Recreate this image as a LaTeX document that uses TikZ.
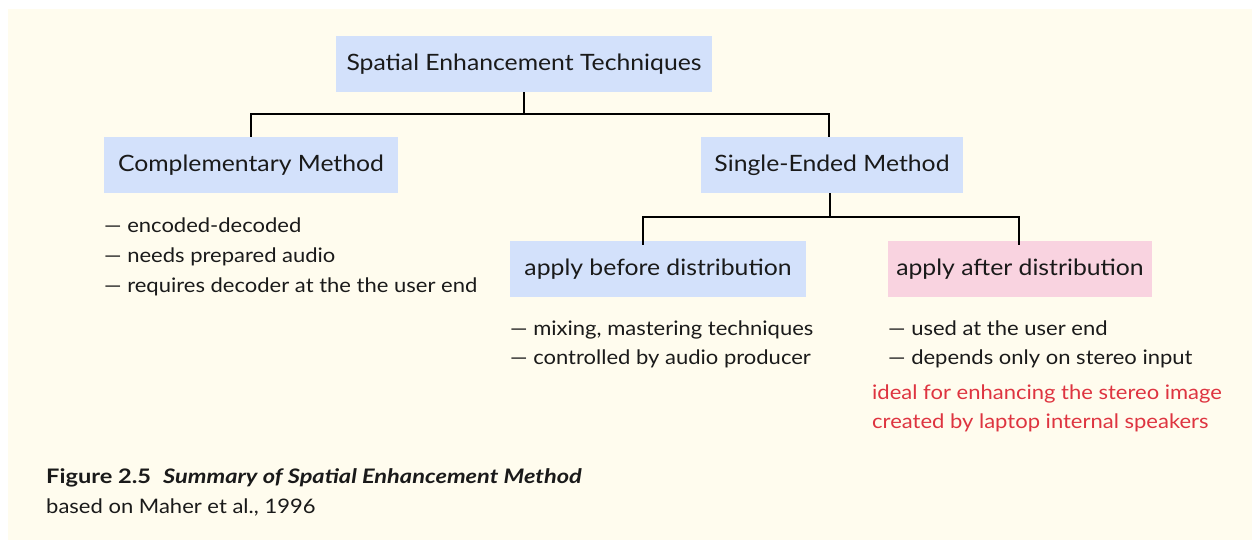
\documentclass[tikz,border=0pt]{standalone}
\usepackage{fontspec}
\setmainfont[FakeStretch=1.1]{Lato}
\newfontfamily\capfont[FakeStretch=1.18]{Lato}
\definecolor{paper}{HTML}{FFFCEE}
\definecolor{boxblue}{HTML}{D3E1FB}
\definecolor{boxpink}{HTML}{F9D3E0}
\definecolor{notered}{HTML}{DE3440}
\definecolor{ink}{HTML}{1A1A1A}
\tikzset{
  catbox/.style={fill=boxblue, text=ink, minimum height=56pt, inner sep=0pt,
    font=\fontsize{22.5}{26}\selectfont},
  bullet/.style={anchor=base west, inner sep=0pt, text=ink,
    font=\fontsize{20}{23}\selectfont},
  note/.style={anchor=base west, inner sep=0pt, text=notered,
    font=\fontsize{20}{23}\selectfont},
  link/.style={draw=black, line width=2.6pt, line cap=butt, line join=miter},
}
\begin{document}
\begin{tikzpicture}[x=1pt, y=-1pt]
  \useasboundingbox (0,0) rectangle (1252,540);
  \fill[paper] (8,9) rectangle (1252,540);

  % category boxes
  \node[catbox, minimum width=376pt] (top)    at (524,64)  {Spatial Enhancement Techniques};
  \node[catbox, minimum width=294pt] (comp)   at (251,165) {Complementary Method};
  \node[catbox, minimum width=262pt] (single) at (832,165) {Single-Ended Method};
  \node[catbox, minimum width=296pt] (before) at (658,269) {apply before distribution};
  \node[catbox, minimum width=264pt, fill=boxpink] (after) at (1020,269) {apply after distribution};

  % tree connectors
  \coordinate (j1) at (524,114);
  \coordinate (j2) at (830,217);
  \draw[link] (top.south) -- (j1);
  \draw[link] (comp.north -| 251,0) |- (j1) -| (single.north -| 829,0);
  \draw[link] (single.south -| j2) -- (j2);
  \draw[link] ([yshift=-4pt]before.north -| 643,0) |- (j2) -| ([yshift=-4pt]after.north -| 1019,0);

  % notes under each method
  \node[bullet] (c1) at (104,232) {— encoded-decoded};
  \node[bullet] (c2) at (104,262) {— needs prepared audio};
  \node[bullet] (c3) at (104,292) {— requires decoder at the the user end};

  \node[bullet] (b1) at (510,335) {— mixing, mastering techniques};
  \node[bullet] (b2) at (510,364) {— controlled by audio producer};

  \node[bullet] (a1) at (888,335) {— used at the user end};
  \node[bullet] (a2) at (888,364) {— depends only on stereo input};
  \node[note] (n1) at (872,399) {ideal for enhancing the stereo image};
  \node[note] (n2) at (872,428) {created by laptop internal speakers};

  % caption
  \node[bullet] (cap1) at (46,483) {\capfont\textbf{Figure 2.5}\ \ \textbf{\textit{Summary of Spatial Enhancement Method}}};
  \node[bullet] (cap2) at (46,513) {based on Maher et al., 1996};
\end{tikzpicture}
\end{document}
